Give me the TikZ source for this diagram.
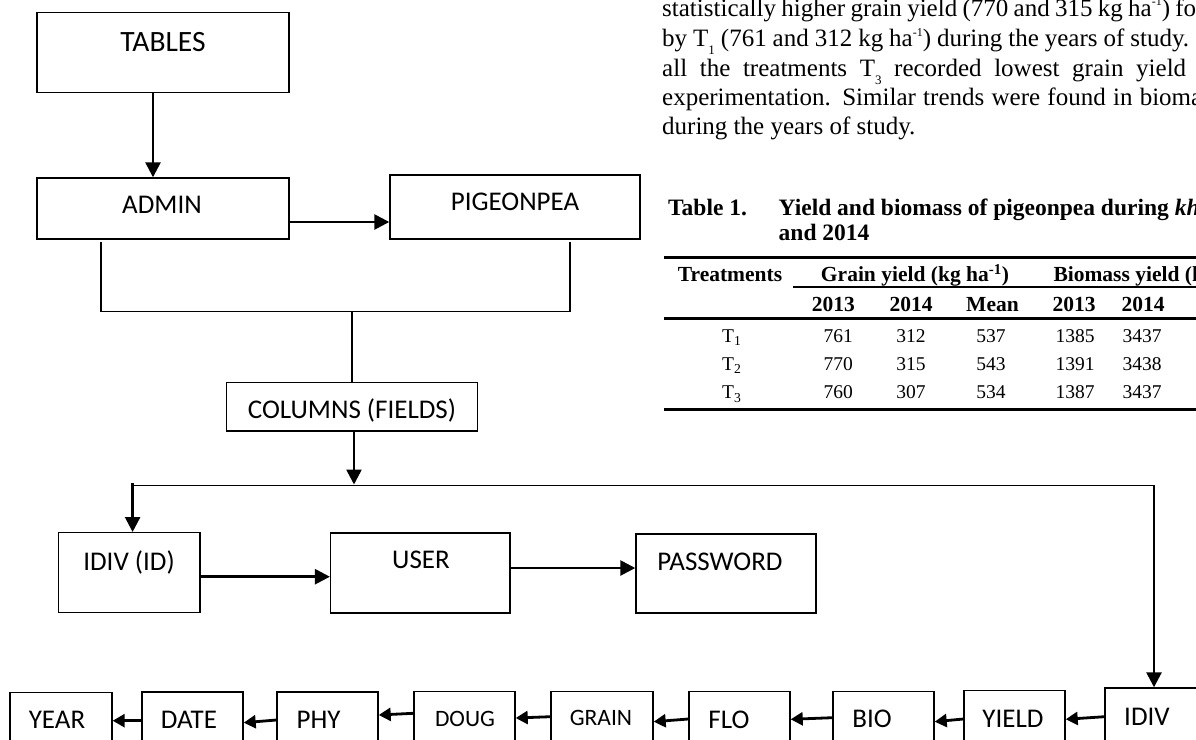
\documentclass[tikz,border=0pt]{standalone}
\usepackage{fontspec}
\setmainfont{Liberation Serif}
\newfontfamily\calfont{Carlito}
\usetikzlibrary{arrows.meta}
\newcommand\supx[1]{\raisebox{0.42em}{\fontsize{12}{12}\selectfont #1}}
\newcommand\subx[1]{\raisebox{-0.32em}{\fontsize{13}{13}\selectfont #1}}
\newcommand\mybox[5]{\node[box, minimum width={(#4-#2)*1pt}, minimum height={(#5-#3)*1pt}] (#1) at ({(#2+#4)/2},{(#3+#5)/2}) {};}
\begin{document}
\begin{tikzpicture}[x=1pt,y=-1pt,
 box/.style={draw=black, line width=1.4pt, inner sep=0pt, rectangle},
 lbl/.style={font=\calfont\fontsize{27}{27}\selectfont, inner sep=0pt, text height=17.4pt, text depth=0pt},
 lblb/.style={font=\calfont\fontsize{29.5}{29.5}\selectfont, inner sep=0pt, text height=19pt, text depth=0pt},
 lbls/.style={font=\calfont\fontsize{23.5}{23.5}\selectfont, inner sep=0pt, text height=15.1pt, text depth=0pt},
 arr/.style={line width=2.6pt, -{Triangle[length=15pt,width=15pt]}},
 arrs/.style={line width=2.8pt, -{Triangle[length=12pt,width=13pt]}},
 ln/.style={line width=1.5pt},
 para/.style={font=\fontsize{25}{29}\selectfont, inner sep=0pt, anchor=base west},
 ttl/.style={font=\bfseries\fontsize{23.5}{23.5}\selectfont, inner sep=0pt, text height=15.5pt, text depth=0pt},
 th/.style={font=\bfseries\fontsize{21.5}{21.5}\selectfont, inner sep=0pt, text height=14.2pt, text depth=0pt},
 td/.style={font=\fontsize{19.5}{19.5}\selectfont, inner sep=0pt, text height=12.9pt, text depth=0pt},
 tabrule/.style={line width=2.5pt},
 tabrulet/.style={line width=1.7pt}]
\useasboundingbox (0,0) rectangle (1196,739);
\clip (0,0) rectangle (1196,739);

% ---------- upper boxes ----------
\mybox{tables}{37}{12.7}{289}{92.7}
\mybox{admin}{37}{178}{289}{239}
\mybox{pigeon}{390}{175}{640}{239}
\mybox{columns}{226.5}{382.3}{477.6}{431}
\node[lblb] (tables-t) at (163,42) {TABLES};
\node[lbl] (admin-t) at (162,205) {ADMIN};
\node[lbl] (pigeon-t) at (515,202) {PIGEONPEA};
\node[lbl] (columns-t) at (352,410) {COLUMNS (FIELDS)};

\coordinate (a1) at (153,0);
\draw[arr] (tables.south -| a1) -- (admin.north -| a1);
\coordinate (a2) at (0,222);
\draw[arr] (admin.east |- a2) -- (pigeon.west |- a2);

\coordinate (bl) at (101,242);
\coordinate (br) at (570,242);
\coordinate (bm) at (352,311.7);
\draw[ln] (bl) |- (bm) -| (br);
\draw[ln] (bm) -- (columns.north -| bm);

% ---------- middle row ----------
\mybox{idivid}{58.7}{532.7}{200}{612.7}
\mybox{user}{330.6}{533}{510}{613}
\mybox{password}{636}{534}{816}{613}
\node[lbl] (idivid-t) at (129,562) {IDIV (ID)};
\node[lbl] (user-t) at (421,560) {USER};
\node[lbl] (password-t) at (720,562) {PASSWORD};

% ---------- bottom row ----------
\mybox{year}{10}{692.5}{112}{772}
\mybox{date}{142}{692}{243}{772}
\mybox{phy}{277}{692}{378}{772}
\mybox{doug}{414}{691.7}{515}{772}
\mybox{grain}{551}{691.5}{653}{772}
\mybox{flo}{689}{691.5}{790}{772}
\mybox{bio}{833}{691.7}{934}{772}
\mybox{yield}{964}{690.7}{1065}{772}
\mybox{idiv}{1105}{688}{1240}{772}
\node[lbl] (year-t) at (57,720) {YEAR};
\node[lbl] (date-t) at (189,720) {DATE};
\node[lbl] (phy-t) at (318.6,720) {PHY};
\node[lbls] (doug-t) at (465,719) {DOUG};
\node[lbls] (grain-t) at (601,718) {GRAIN};
\node[lbl] (flo-t) at (729,720) {FLO};
\node[lbl] (bio-t) at (872,719) {BIO};
\node[lbl] (yield-t) at (1013,719) {YIELD};
\node[lbl] (idiv-t) at (1147,717) {IDIV};

% ---------- connectors (middle) ----------
\coordinate (hm) at (354,484.5);
\draw[arr] (columns.south -| hm) -- (hm);
\coordinate (hl) at (132.6,485.7);
\coordinate (hr) at (1154,485.7);
\draw[ln] (hl) -- (hr);
\coordinate (hl0) at (132.6,483);
\coordinate (hr0) at (1154,485);
\draw[arr] (hl0) -- (idivid.north -| hl0);
\draw[arr] (hr0) -- (idiv.north -| hr0);

\coordinate (a3) at (0,576.7);
\draw[arr] (idivid.east |- a3) -- (user.west |- a3);
\coordinate (a4) at (0,568);
\draw[arr] (user.east |- a4) -- (password.west |- a4);

% ---------- connectors (bottom) ----------
\draw[arrs] (date.west |- 0,720.7) -- (year.east |- 0,720.7);
\draw[arrs] (phy.west |- 0,720) -- (date.east |- 0,722.7);
\draw[arrs] (doug.west |- 0,713.3) -- (phy.east |- 0,715);
\draw[arrs] (grain.west |- 0,716.7) -- (doug.east |- 0,718);
\draw[arrs] (flo.west |- 0,719) -- (grain.east |- 0,721.7);
\draw[arrs] (bio.west |- 0,717.7) -- (flo.east |- 0,719.3);
\draw[arrs] (yield.west |- 0,719) -- (bio.east |- 0,721.7);
\draw[arrs] (idiv.west |- 0,716.7) -- (yield.east |- 0,719.3);

% ---------- paragraph ----------
\node[para] (p1) at (662,16) {\makebox[534pt][s]{statistically higher grain yield (770 and 315 kg ha\supx{-1}) fo}};
\node[para] (p2) at (662,46.5) {\makebox[527pt][s]{by T\subx{1} (761 and 312 kg ha\supx{-1}) during the years of study.}};
\node[para] (p3) at (662,76) {\makebox[524pt][s]{all the treatments T\subx{3} recorded lowest grain yield}};
\node[para] (p4) at (662,105) {\makebox[540pt][s]{experimentation. Similar trends were found in bioma}};
\node[para] (p5) at (662,134) {during the years of study.};

% ---------- table ----------
\node[ttl, anchor=west] (tt1) at (668,207.5) {Table 1.};
\node[ttl, anchor=west] (tt2) at (778.5,207.5) {Yield and biomass of pigeonpea during \textit{kha}};
\node[ttl, anchor=west] (tt3) at (778.5,233) {and 2014};
\draw[tabrule] (664,257.3) -- (1200,257.3);
\node[th] (h1) at (730,274.5) {Treatments};
\node[th] (h2) at (915,274.5) {Grain yield (kg ha\textsuperscript{-1})};
\node[th, anchor=west] (h3) at (1053.3,274.5) {Biomass yield (kg ha\textsuperscript{-1})};
\draw[tabrulet] (793,287.3) -- (1200,287.3);
\node[th] (y1) at (833.3,304) {2013};
\node[th] (y2) at (911,304) {2014};
\node[th] (y3) at (992.5,304) {Mean};
\node[th] (y4) at (1074,304) {2013};
\node[th] (y5) at (1143,304) {2014};
\draw[tabrule] (664,318.3) -- (1200,318.3);
\node[td] (r1) at (731.7,335.7) {T\textsubscript{1}};
\node[td] (r1a) at (838.3,335.7) {761};
\node[td] (r1b) at (911,335.7) {312};
\node[td] (r1c) at (991,335.7) {537};
\node[td] (r1d) at (1075,335.7) {1385};
\node[td] (r1e) at (1142,335.7) {3437};
\node[td] (r2) at (731.7,364) {T\textsubscript{2}};
\node[td] (r2a) at (838.3,364) {770};
\node[td] (r2b) at (911,364) {315};
\node[td] (r2c) at (991,364) {543};
\node[td] (r2d) at (1075,364) {1391};
\node[td] (r2e) at (1142,364) {3438};
\node[td] (r3) at (731.7,392.5) {T\textsubscript{3}};
\node[td] (r3a) at (838.3,392.5) {760};
\node[td] (r3b) at (911,392.5) {307};
\node[td] (r3c) at (991,392.5) {534};
\node[td] (r3d) at (1075,392.5) {1387};
\node[td] (r3e) at (1142,392.5) {3437};
\draw[tabrule] (664,409.3) -- (1200,409.3);
\end{tikzpicture}
\end{document}
